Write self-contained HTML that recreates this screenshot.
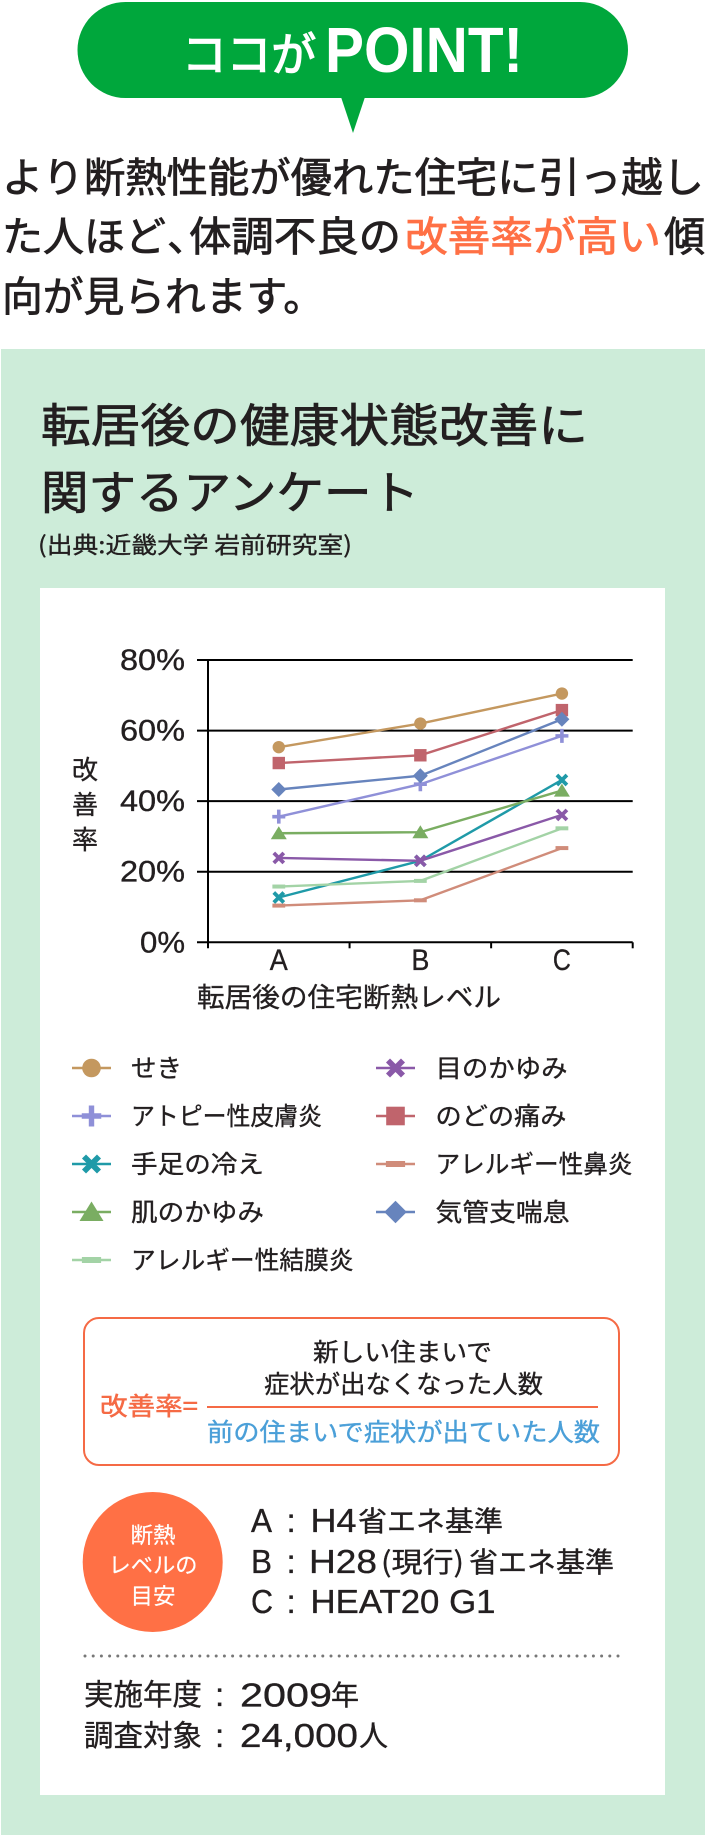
<!DOCTYPE html>
<html lang="ja">
<head>
<meta charset="utf-8">
<title>転居後の健康状態改善に関するアンケート</title>
<style>
html,body{margin:0;padding:0;background:#fff;}
body{width:706px;height:1835px;overflow:hidden;}
svg{display:block;}
text{font-family:"Liberation Sans","Noto Sans CJK JP",sans-serif;fill:#231f20;stroke:#231f20;stroke-width:.35px;}
.jp{font-family:"Noto Sans CJK JP","Liberation Sans",sans-serif;}
.md{stroke-width:.8px;}
</style>
</head>
<body>
<svg id="page" xmlns="http://www.w3.org/2000/svg" width="706" height="1835" viewBox="0 0 706 1835">
  <g>
    <rect x="77.5" y="2" width="550.5" height="96" rx="48" fill="#00a73c"/>
    <polygon points="341,97 365,97 353,133" fill="#00a73c"/>
    <text class="jp" x="182" y="71" font-size="46" textLength="134" lengthAdjust="spacingAndGlyphs" style="fill:#fff;stroke:#fff;stroke-width:1.4px">ココが</text>
    <text x="325" y="72" font-size="64" font-weight="700" textLength="198" lengthAdjust="spacingAndGlyphs" style="fill:#fff;stroke:none">POINT!</text>
  </g>
  <g>
    <text class="jp md" x="2" y="192" font-size="41" textLength="702" lengthAdjust="spacingAndGlyphs">より断熱性能が優れた住宅に引っ越し</text>
    <text class="jp md" x="2" y="251" font-size="41" textLength="164" lengthAdjust="spacingAndGlyphs">た人ほど</text>
    <text class="jp md" x="167" y="251" font-size="41">、</text>
    <text class="jp md" x="189" y="251" font-size="41" textLength="212" lengthAdjust="spacingAndGlyphs">体調不良の</text>
    <text class="jp" x="405" y="251" font-size="41" textLength="256" lengthAdjust="spacingAndGlyphs" style="fill:#ff7045;stroke:#ff7045;stroke-width:.8px">改善率が高い</text>
    <text class="jp md" x="664" y="251" font-size="41" textLength="41" lengthAdjust="spacingAndGlyphs">傾</text>
    <text class="jp md" x="2" y="311" font-size="41" textLength="322" lengthAdjust="spacingAndGlyphs">向が見られます。</text>
  </g>
  <rect x="1" y="349" width="704" height="1486" fill="#cdecd9"/>
  <g>
    <text class="jp md" x="41" y="442" font-size="46" textLength="547" lengthAdjust="spacingAndGlyphs">転居後の健康状態改善に</text>
    <text class="jp md" x="41" y="509" font-size="46" textLength="378" lengthAdjust="spacingAndGlyphs">関するアンケート</text>
    <text class="jp" x="38" y="553" font-size="23" textLength="314" lengthAdjust="spacingAndGlyphs">(出典:近畿大学 岩前研究室)</text>
  </g>
  <rect x="40" y="588" width="625" height="1207" fill="#fff"/>

  <g id="chart"></g>
  <g id="legend"></g>

  <g>
    <rect x="84" y="1318" width="535" height="147" rx="15" fill="#fff" stroke="#f56a45" stroke-width="2"/>
    <text class="jp" x="100" y="1415" font-size="25" textLength="98" lengthAdjust="spacingAndGlyphs" style="fill:#f56a45;stroke:#f56a45;stroke-width:.5px">改善率=</text>
    <text class="jp" x="313" y="1361" font-size="25" textLength="179" lengthAdjust="spacingAndGlyphs">新しい住まいで</text>
    <text class="jp" x="264" y="1393" font-size="25" textLength="279" lengthAdjust="spacingAndGlyphs">症状が出なくなった人数</text>
    <line x1="207" y1="1407" x2="598" y2="1407" stroke="#f56a45" stroke-width="2"/>
    <text class="jp" x="207" y="1441" font-size="25" textLength="393" lengthAdjust="spacingAndGlyphs" style="fill:#4a9fd8;stroke:#4a9fd8">前の住まいで症状が出ていた人数</text>
  </g>

  <g>
    <circle cx="152.7" cy="1562" r="70" fill="#ff7045"/>
    <text class="jp" x="153" y="1543" font-size="22" text-anchor="middle" textLength="45" lengthAdjust="spacingAndGlyphs" style="fill:#fff;stroke:#fff;stroke-width:.2px">断熱</text>
    <text class="jp" x="153" y="1573" font-size="22" text-anchor="middle" textLength="89" lengthAdjust="spacingAndGlyphs" style="fill:#fff;stroke:#fff;stroke-width:.2px">レベルの</text>
    <text class="jp" x="153" y="1604" font-size="22" text-anchor="middle" textLength="45" lengthAdjust="spacingAndGlyphs" style="fill:#fff;stroke:#fff;stroke-width:.2px">目安</text>

    <text x="251" y="1532" font-size="33" textLength="21" lengthAdjust="spacingAndGlyphs">A</text>
    <text x="286.5" y="1532" font-size="33">:</text>
    <text x="310.5" y="1532" font-size="33" textLength="46" lengthAdjust="spacingAndGlyphs">H4</text>
    <text class="jp" x="358" y="1531" font-size="28" textLength="145" lengthAdjust="spacingAndGlyphs">省エネ基準</text>

    <text x="251" y="1573" font-size="33" textLength="21" lengthAdjust="spacingAndGlyphs">B</text>
    <text x="286.5" y="1573" font-size="33">:</text>
    <text x="309" y="1573" font-size="33" textLength="68" lengthAdjust="spacingAndGlyphs">H28</text>
    <text class="jp" x="381" y="1572" font-size="28" textLength="83" lengthAdjust="spacingAndGlyphs">(現行)</text>
    <text class="jp" x="469" y="1572" font-size="28" textLength="145" lengthAdjust="spacingAndGlyphs">省エネ基準</text>

    <text x="251" y="1613" font-size="33" textLength="22" lengthAdjust="spacingAndGlyphs">C</text>
    <text x="286.5" y="1613" font-size="33">:</text>
    <text x="310.5" y="1613" font-size="33" textLength="185" lengthAdjust="spacingAndGlyphs">HEAT20 G1</text>
  </g>

  <line x1="85" y1="1656" x2="622" y2="1656" stroke="#777" stroke-width="3" stroke-linecap="round" stroke-dasharray="0 8.2"/>

  <g>
    <text class="jp" x="84" y="1705" font-size="29.5" textLength="118" lengthAdjust="spacingAndGlyphs">実施年度</text>
    <text x="215" y="1706" font-size="33">:</text>
    <text x="240" y="1706.5" font-size="33" textLength="92" lengthAdjust="spacingAndGlyphs">2009</text>
    <text class="jp" x="331" y="1705" font-size="28">年</text>
    <text class="jp" x="84" y="1746" font-size="29.5" textLength="118" lengthAdjust="spacingAndGlyphs">調査対象</text>
    <text x="215" y="1747" font-size="33">:</text>
    <text x="240" y="1747" font-size="33" textLength="118" lengthAdjust="spacingAndGlyphs">24,000</text>
    <text class="jp" x="359" y="1746" font-size="29">人</text>
  </g>
</svg>
<script>
const categories = ['A', 'B', 'C'];
const yTicks = [0, 20, 40, 60, 80];
const seriesCough = [55.3, 62, 70.5];
const seriesAtopy = [35.6, 44.8, 58.5];
const seriesColdHands = [12.7, 23.1, 46];
const seriesSkinItch = [30.9, 31.2, 43];
const seriesConjunctivitis = [15.8, 17.4, 32.3];
const seriesEyeItch = [23.9, 23.1, 36.1];
const seriesSoreThroat = [50.8, 53, 65.8];
const seriesRhinitis = [10.4, 11.9, 26.7];
const seriesAsthma = [43.3, 47.2, 63.2];
const seriesNames = ['せき', 'アトピー性皮膚炎', '手足の冷え', '肌のかゆみ', 'アレルギー性結膜炎', '目のかゆみ', 'のどの痛み', 'アレルギー性鼻炎', '気管支喘息'];
const seriesValues = [seriesCough, seriesAtopy, seriesColdHands, seriesSkinItch, seriesConjunctivitis, seriesEyeItch, seriesSoreThroat, seriesRhinitis, seriesAsthma];

const seriesColors = ['#c4985f', '#8f90d8', '#1f9aa8', '#7aad62', '#a3d3a6', '#8a59a8', '#c0646c', '#d08c7a', '#6784bd'];
const seriesMarkers = ['circle', 'plus', 'cross', 'triangle', 'dash', 'cross', 'square', 'dash', 'diamond'];
const legendLabelWidths = [51, 191, 133, 133, 222.6, 132, 131, 197, 134];

const SVG_NS = 'http://www.w3.org/2000/svg';
const PLOT = { left: 208, right: 632.7, top: 660, bottom: 942.3, yMax: 80 };

function xScale(i) {
  const step = (PLOT.right - PLOT.left) / categories.length;
  return PLOT.left + step * (i + 0.5);
}
function yScale(v) {
  return PLOT.bottom - (v / PLOT.yMax) * (PLOT.bottom - PLOT.top);
}
function make(parent, tag, attrs, text) {
  const el = document.createElementNS(SVG_NS, tag);
  for (const k in attrs) el.setAttribute(k, attrs[k]);
  if (text !== undefined) el.textContent = text;
  parent.appendChild(el);
  return el;
}
function drawMarker(parent, shape, cx, cy, s, color) {
  let el;
  if (shape === 'circle') {
    el = make(parent, 'circle', { cx: cx, cy: cy, r: 6.2 * s, fill: color });
  } else if (shape === 'square') {
    el = make(parent, 'rect', { x: cx - 6.2 * s, y: cy - 6.2 * s, width: 12.4 * s, height: 12.4 * s, fill: color });
  } else if (shape === 'diamond') {
    el = make(parent, 'polygon', { points: [[cx, cy - 7.5 * s], [cx + 7.5 * s, cy], [cx, cy + 7.5 * s], [cx - 7.5 * s, cy]].join(' '), fill: color });
  } else if (shape === 'triangle') {
    el = make(parent, 'polygon', { points: [[cx, cy - 7 * s], [cx + 8 * s, cy + 6 * s], [cx - 8 * s, cy + 6 * s]].join(' '), fill: color });
  } else if (shape === 'dash') {
    el = make(parent, 'rect', { x: cx - 6.4 * s, y: cy - 2 * s, width: 12.8 * s, height: 4 * s, fill: color });
  } else if (shape === 'plus') {
    const d = 'M' + (cx - 6.5 * s) + ' ' + cy + 'H' + (cx + 6.5 * s) + 'M' + cx + ' ' + (cy - 7 * s) + 'V' + (cy + 7 * s);
    el = make(parent, 'path', { d: d, stroke: color, 'stroke-width': 3.6 * s, fill: 'none' });
  } else {
    const r = 5 * s;
    const d = 'M' + (cx - r) + ' ' + (cy - r) + 'L' + (cx + r) + ' ' + (cy + r) + 'M' + (cx + r) + ' ' + (cy - r) + 'L' + (cx - r) + ' ' + (cy + r);
    el = make(parent, 'path', { d: d, stroke: color, 'stroke-width': 3.8 * s, fill: 'none' });
  }
  return el;
}

const chart = document.getElementById('chart');
yTicks.forEach(function (t) {
  const y = yScale(t);
  const line = make(chart, 'line', { x1: 197, x2: PLOT.right, y1: y, y2: y, stroke: '#000', 'stroke-width': 2 });
  
  
  const label = make(chart, 'text', { x: 185, y: y + 10, 'font-size': 30, 'text-anchor': 'end', textLength: t === 0 ? 45 : 65, lengthAdjust: 'spacingAndGlyphs' }, t + '%');
  
  
});
const yAxis = make(chart, 'line', { x1: PLOT.left, x2: PLOT.left, y1: PLOT.top, y2: PLOT.bottom + 6, stroke: '#000', 'stroke-width': 2 });


for (let i = 1; i <= categories.length; i++) {
  const tx = PLOT.left + (PLOT.right - PLOT.left) * i / categories.length;
  const tick = make(chart, 'line', { x1: tx, x2: tx, y1: PLOT.bottom, y2: PLOT.bottom + 6, stroke: '#000', 'stroke-width': 2 });
  
  
}
categories.forEach(function (c, i) {
  const label = make(chart, 'text', { x: xScale(i), y: 970, 'font-size': 30, 'text-anchor': 'middle', textLength: 18, lengthAdjust: 'spacingAndGlyphs' }, c);
  
  
});
const xTitle = make(chart, 'text', { class: 'jp', x: 197, y: 1007, 'font-size': 27, textLength: 304, lengthAdjust: 'spacingAndGlyphs' }, '転居後の住宅断熱レベル');


['改', '善', '率'].forEach(function (ch, i) {
  const part = make(chart, 'text', { class: 'jp', x: 85, y: 779 + i * 35, 'font-size': 26, 'text-anchor': 'middle' }, ch);
  
  
});

seriesValues.forEach(function (values, si) {
  const group = make(chart, 'g', {});
  
  
  const color = seriesColors[si];
  const pts = values.map(function (v, i) { return xScale(i) + ',' + yScale(v); }).join(' ');
  const line = make(group, 'polyline', { points: pts, fill: 'none', stroke: color, 'stroke-width': 2.4 });
  
  
  values.forEach(function (v, i) {
    const m = drawMarker(group, seriesMarkers[si], xScale(i), yScale(v), 1, color);
    
    
  });
});

const legend = document.getElementById('legend');
seriesNames.forEach(function (name, si) {
  const col = si < 5 ? 0 : 1;
  const row = si < 5 ? si : si - 5;
  const cy = 1068 + row * 48;
  const x0 = col === 0 ? 72 : 376;
  const entry = make(legend, 'g', {});
  
  
  const sample = make(entry, 'line', { x1: x0, x2: x0 + 39, y1: cy, y2: cy, stroke: seriesColors[si], 'stroke-width': 2.4 });
  
  
  const marker = drawMarker(entry, seriesMarkers[si], x0 + 19.5, cy, 1.5, seriesColors[si]);
  
  
  const label = make(entry, 'text', { class: 'jp', x: col === 0 ? 131 : 435.5, y: cy + 9, 'font-size': 25, textLength: legendLabelWidths[si], lengthAdjust: 'spacingAndGlyphs' }, name);
  
  
});
</script>
</body>
</html>
